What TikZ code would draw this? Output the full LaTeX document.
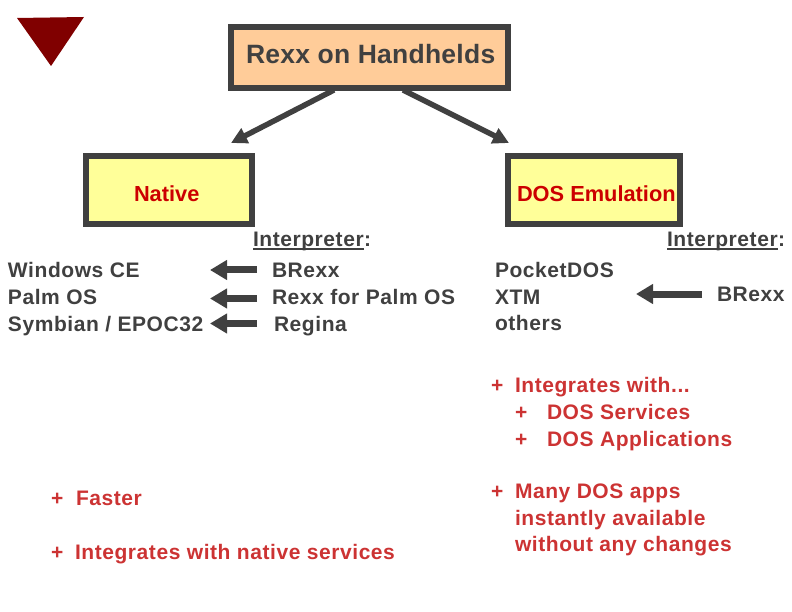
\documentclass[tikz,border=0pt]{standalone}
\usepackage{fontspec}
\setmainfont{Liberation Sans}
\newfontfamily\bodyfont{Liberation Sans}[LetterSpace=2.7]
\newfontfamily\headfont{Liberation Sans}[LetterSpace=0.9]
\newfontfamily\redfont{Liberation Sans}
\usetikzlibrary{arrows.meta}
\definecolor{ink}{HTML}{404040}
\definecolor{peach}{HTML}{FFCC99}
\definecolor{lemon}{HTML}{FFFF99}
\definecolor{maroon}{HTML}{800000}
\definecolor{headred}{HTML}{CC0000}
\definecolor{bulletred}{HTML}{CC3333}
\tikzset{
  x=1pt,y=-1pt,
  boxframe/.style={draw=ink,line width=6pt,miter limit=10,inner sep=0pt},
  lbl/.style={anchor=base west,inner sep=0pt,outer sep=0pt},
  dark/.style={lbl,text=ink,font=\bodyfont\bfseries\fontsize{21}{21}\selectfont},
  redt/.style={lbl,text=bulletred,font=\bodyfont\bfseries\fontsize{21}{21}\selectfont},
  headt/.style={lbl,text=headred,font=\redfont\bfseries\fontsize{21.8}{22}\selectfont},
  titlet/.style={lbl,text=ink,font=\headfont\bfseries\fontsize{26.5}{26.5}\selectfont},
  thick arrow/.style={draw=ink,line width=7pt,-{Triangle[length=17pt,width=19pt]}},
  slant arrow/.style={draw=ink,line width=5.5pt,-{Triangle[length=16pt,width=16pt]}},
}
\newsavebox{\ulbox}
\newcommand{\ul}[1]{\sbox{\ulbox}{#1}\rlap{\rule[-3.2pt]{\wd\ulbox}{1.8pt}}#1}
\begin{document}
\begin{tikzpicture}
\useasboundingbox (0,0) rectangle (792,612);
\fill[maroon] (17,18) -- (84,17) -- (51,66) -- cycle;

\draw[boxframe,fill=peach] (231,27) rectangle (508,88);
\draw[boxframe,fill=lemon] (86,156) rectangle (251.5,224);
\draw[boxframe,fill=lemon] (508,156) rectangle (680,224);

\node[titlet] (title) at (246,63.5) {Rexx on Handhelds};
\node[headt] (native) at (134,201.7) {Native};
\node[headt] (dos) at (517,201.7) {DOS Emulation};

\coordinate (tl) at (334,90);
\coordinate (tr) at (403,90);
\coordinate (nt) at (231,143);
\coordinate (dt) at (509,143);
\draw[slant arrow] (tl) -- (nt);
\draw[slant arrow] (tr) -- (dt);

\node[dark] (ileft) at (253,246.7) {\ul{Interpreter}:};
\node[dark] (wce) at (8,277.5) {Windows CE};
\node[dark] (palm) at (8,304) {Palm OS};
\node[dark] (sym) at (8,331) {Symbian / EPOC32};
\node[dark] (brl) at (272,277.5) {BRexx};
\node[dark] (rpo) at (272,304) {Rexx for Palm OS};
\node[dark] (reg) at (274,331) {Regina};

\coordinate (a1s) at (257,270); \coordinate (a1e) at (210,270);
\coordinate (a2s) at (257,298.5); \coordinate (a2e) at (210,298.5);
\coordinate (a3s) at (257,323.5); \coordinate (a3e) at (210,323.5);
\coordinate (a4s) at (702,294); \coordinate (a4e) at (636,294);
\draw[thick arrow] (a1s) -- (a1e);
\draw[thick arrow] (a2s) -- (a2e);
\draw[thick arrow] (a3s) -- (a3e);
\draw[thick arrow] (a4s) -- (a4e);

\node[dark] (iright) at (667,246.7) {\ul{Interpreter}:};
\node[dark] (pd) at (495,277.3) {PocketDOS};
\node[dark] (xtm) at (495,304) {XTM};
\node[dark] (oth) at (495,330.7) {others};
\node[dark] (brr) at (717,301.7) {BRexx};

\node[redt] (p1) at (51,505.7) {+};
\node[redt] (fast) at (76,505.7) {Faster};
\node[redt] (p2) at (51,559) {+};
\node[redt] (intn) at (75,559) {Integrates with native services};

\node[redt] (p3) at (491,392.7) {+};
\node[redt] (intw) at (515,392.7) {Integrates with...};
\node[redt] (p4) at (515,419) {+};
\node[redt] (dserv) at (547,419) {DOS Services};
\node[redt] (p5) at (515,446) {+};
\node[redt] (dapp) at (547,446) {DOS Applications};
\node[redt] (p6) at (491,498) {+};
\node[redt] (many) at (515,498) {Many DOS apps};
\node[redt] (inst) at (515,525) {instantly available};
\node[redt] (wo) at (515,551.7) {without any changes};
\end{tikzpicture}
\end{document}
